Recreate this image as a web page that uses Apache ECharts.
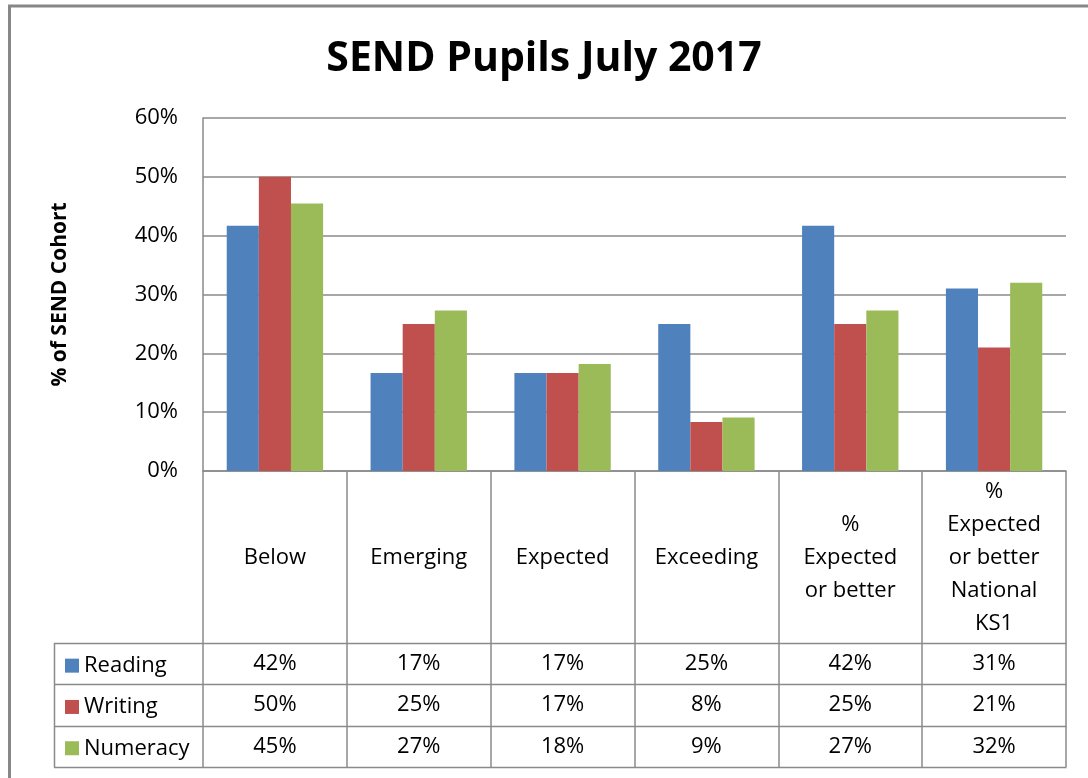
<!DOCTYPE html>
<html lang="en">
<head>
    <meta charset="UTF-8">
    <title>SEND Pupils July 2017</title>
    <style>
        * {
            margin: 0;
            padding: 0;
        }

        html, body {
            width: 100%;
            height: 100%;
            background: #fff;
        }

        #chart {
            width: 1088px;
            height: 778px;
        }
    </style>
    <script src="https://cdnjs.cloudflare.com/ajax/libs/echarts/6.0.0/echarts.min.js"></script>
</head>
<body>
<div id="chart"></div>
</body>

<script>
    // categories and values (% of SEND cohort)
    const categories = [
        'Below',
        'Emerging',
        'Expected',
        'Exceeding',
        '%\nExpected\nor better',
        '%\nExpected\nor better\nNational\nKS1'
    ]
    const reading = [41.67, 16.67, 16.67, 25, 41.67, 31]
    const writing = [50, 25, 16.67, 8.33, 25, 21]
    const numeracy = [45.45, 27.27, 18.18, 9.09, 27.27, 32]
    const seriesNames = ['Reading', 'Writing', 'Numeracy']
    const yTicks = [0, 10, 20, 30, 40, 50, 60]

    const colors = ['#4F81BD', '#C0504D', '#9BBB59']
    const lineGray = '#8a8a8a'
    const font = '"Open Sans", "Noto Sans", sans-serif'

    // layout of the plot area and the data table under it
    const plotLeft = 203, plotRight = 1066, plotTop = 118, plotBottom = 471
    const tableLeft = 54
    const headerBottom = 643
    const rowHeight = 41.3

    let chart = echarts.init(document.getElementById('chart'))

    let rowData = [reading, writing, numeracy]

    // one hidden x axis per table row, used only to place the row's value labels
    let rowAxes = rowData.map(function (vals, r) {
        return {
            type: 'category',
            data: categories,
            gridIndex: 0,
            position: 'bottom',
            offset: headerBottom + rowHeight * (r + 0.5) - plotBottom,
            axisLine: {show: false},
            axisTick: {show: false},
            splitLine: {show: false},
            axisLabel: {
                interval: 0,
                margin: 0,
                verticalAlign: 'middle',
                color: '#000',
                fontFamily: font,
                fontSize: 22,
                formatter: function (v, i) {
                    return Math.round(vals[i]) + '%'
                }
            }
        }
    })

    // table frame lines
    let tableLines = []
    for (let r = 0; r <= 3; r++) {
        let y = Math.round(headerBottom + rowHeight * r) + 0.5
        tableLines.push({
            type: 'line',
            shape: {x1: tableLeft, y1: y, x2: plotRight + 0.5, y2: y},
            style: {stroke: lineGray, lineWidth: 1.5}
        })
    }
    tableLines.push({
        type: 'line',
        shape: {x1: tableLeft + 0.5, y1: headerBottom, x2: tableLeft + 0.5, y2: Math.round(headerBottom + rowHeight * 3) + 0.5},
        style: {stroke: lineGray, lineWidth: 1.5}
    })

    let option = {
        animation: false,
        backgroundColor: '#fff',
        color: colors,
        textStyle: {fontFamily: font},
        title: {
            text: 'SEND Pupils July 2017',
            left: 'center',
            top: 34,
            textStyle: {
                fontFamily: font,
                fontSize: 41,
                fontWeight: 'bold',
                color: '#000'
            }
        },
        legend: {
            orient: 'vertical',
            left: 60,
            top: headerBottom - 3,
            itemWidth: 14,
            itemHeight: 14,
            itemGap: 0,
            icon: 'rect',
            data: seriesNames,
            textStyle: {
                fontFamily: font,
                fontSize: 22,
                color: '#000',
                lineHeight: rowHeight
            }
        },
        grid: {
            left: plotLeft,
            right: 1088 - plotRight,
            top: plotTop,
            bottom: 778 - plotBottom,
            containLabel: false
        },
        xAxis: [{
            type: 'category',
            data: categories,
            axisLine: {lineStyle: {color: lineGray, width: 1.5}},
            axisTick: {
                show: true,
                length: Math.round(headerBottom + rowHeight * 3) - plotBottom,
                lineStyle: {color: lineGray, width: 1.5}
            },
            axisLabel: {
                interval: 0,
                margin: (headerBottom - plotBottom) / 2 + 1,
                verticalAlign: 'middle',
                lineHeight: 33,
                color: '#000',
                fontFamily: font,
                fontSize: 22
            }
        }].concat(rowAxes),
        yAxis: {
            type: 'value',
            min: yTicks[0],
            max: yTicks[yTicks.length - 1],
            interval: 10,
            name: '% of SEND Cohort',
            nameLocation: 'middle',
            nameGap: 132,
            nameTextStyle: {
                fontFamily: font,
                fontSize: 21,
                fontWeight: 'bold',
                color: '#000'
            },
            axisLine: {show: true, lineStyle: {color: lineGray, width: 1.5}},
            axisTick: {show: false},
            splitLine: {lineStyle: {color: lineGray, width: 1.5}},
            axisLabel: {
                margin: 25,
                color: '#000',
                fontFamily: font,
                fontSize: 22,
                formatter: '{value}%'
            }
        },
        series: rowData.map(function (vals, r) {
            return {
                name: seriesNames[r],
                type: 'bar',
                xAxisIndex: 0,
                barGap: 0,
                barCategoryGap: '33%',
                data: vals,
                itemStyle: {color: colors[r]}
            }
        }),
        graphic: [{
            type: 'rect',
            shape: {x: 9.5, y: 6, width: 1200, height: 900},
            style: {fill: 'none', stroke: '#878787', lineWidth: 3},
            silent: true
        }].concat(tableLines)
    }

    chart.setOption(option)
</script>
</html>
